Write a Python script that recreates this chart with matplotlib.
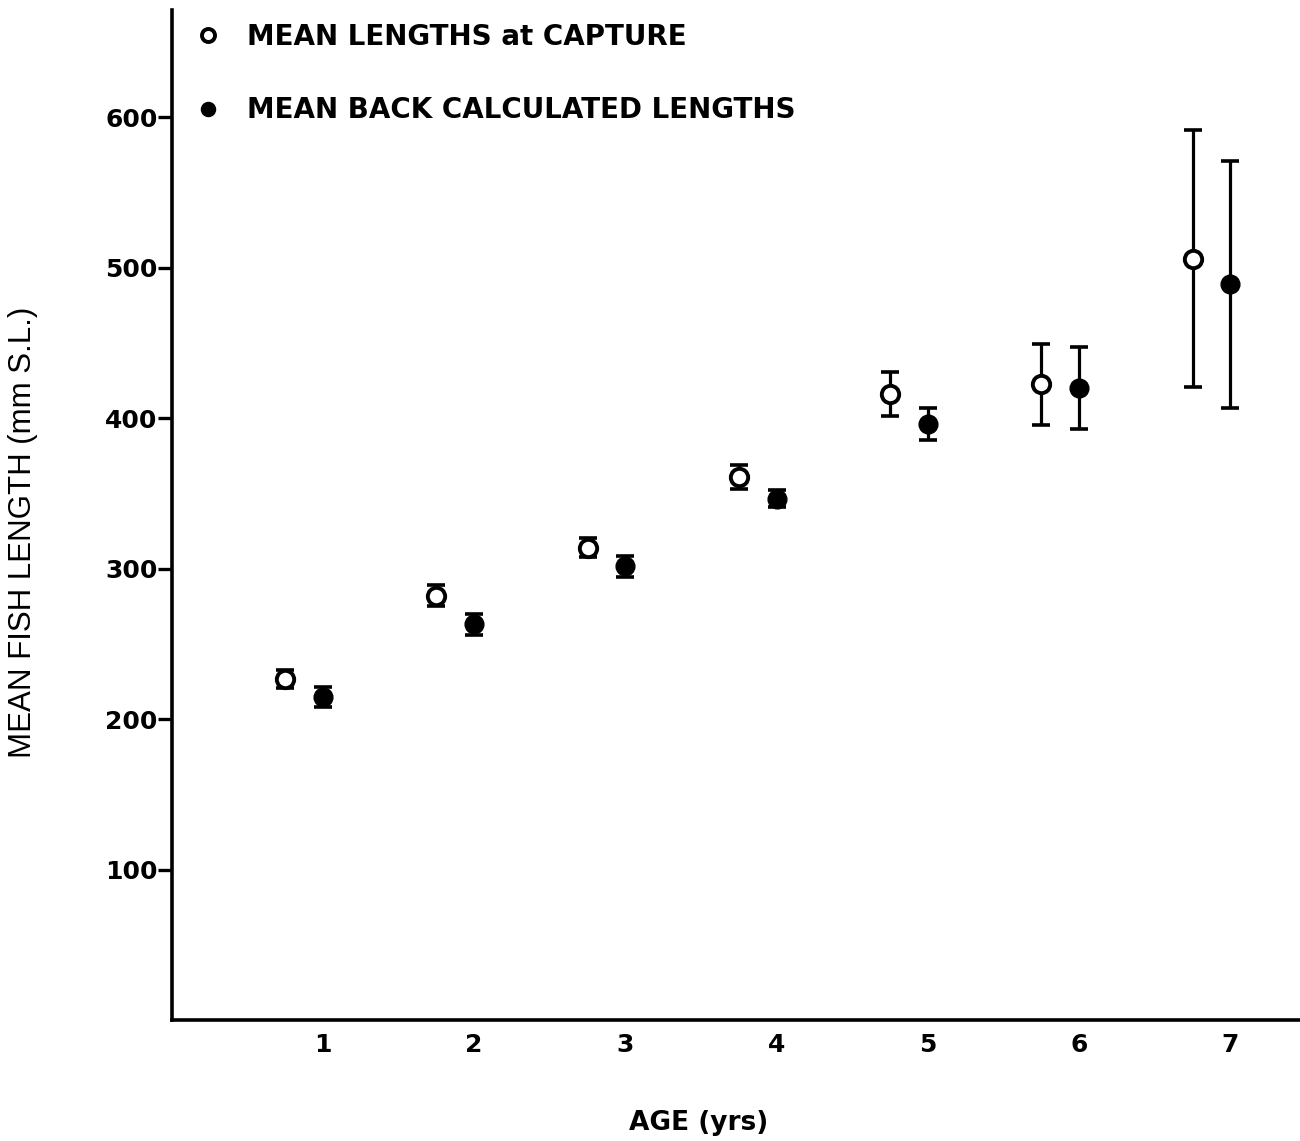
import numpy as np
import matplotlib.pyplot as plt

plt.rcParams['font.family'] = ['Liberation Sans', 'DejaVu Sans']

# Mean lengths (mm S.L.)
ages = [1, 2, 3, 4, 5, 6, 7]
capture_mean = [226.5, 282, 314, 361, 416, 422.5, 506]
capture_err = [6, 7, 6.5, 8, 14.5, 27, 85.5]
backcalc_mean = [214.5, 263, 301.5, 346.5, 396, 420, 489]
backcalc_err = [6.5, 7, 7, 5.5, 10.5, 27, 82]
offset = 0.25

fig = plt.figure(figsize=(13, 11.41), dpi=100)
ax = fig.add_axes([0.132, 0.106, 0.868, 0.885])

x_cap = np.array(ages) - offset
x_back = np.array(ages)

# error bars
ebkw = dict(fmt='none', ecolor='black', elinewidth=2.3, capsize=6.5, capthick=2.6, zorder=2)
ax.errorbar(x_cap, capture_mean, yerr=capture_err, **ebkw)
ax.errorbar(x_back, backcalc_mean, yerr=backcalc_err, **ebkw)

# points
ax.plot(x_cap, capture_mean, 'o', ms=12.5, mfc='white', mec='black', mew=2.8, ls='none',
        zorder=3, label='MEAN LENGTHS at CAPTURE')
ax.plot(x_back, backcalc_mean, 'o', ms=13.5, mfc='black', mec='black', ls='none',
        zorder=3, label='MEAN BACK CALCULATED LENGTHS')

ax.set_xlim(0, 7.46)
ax.set_ylim(0, 671)

ax.spines['top'].set_visible(False)
ax.spines['right'].set_visible(False)
ax.spines['left'].set_linewidth(2.6)
ax.spines['bottom'].set_linewidth(2.6)

ax.set_yticks([100, 200, 300, 400, 500, 600])
ax.set_xticks(ages)
ax.tick_params(axis='y', direction='out', length=10, width=2.4, pad=0, labelsize=18)
ax.tick_params(axis='x', length=0, pad=9, labelsize=18)
for lab in ax.get_xticklabels() + ax.get_yticklabels():
    lab.set_fontweight('bold')
    lab.set_family('DejaVu Sans')

ax.set_ylabel('MEAN FISH LENGTH (mm S.L.)', fontsize=22.5)
ax.yaxis.set_label_coords(-0.118, 0.483)
ax.set_xlabel('AGE (yrs)', fontsize=19, fontweight='bold', family='DejaVu Sans')
ax.xaxis.set_label_coords(0.467, -0.102)
ax.xaxis.label.set_va('center')

leg = ax.legend(loc='upper left', bbox_to_anchor=(0.0, 1.012), frameon=False,
                prop={'size': 20, 'weight': 'bold', 'family': 'DejaVu Sans'},
                labelspacing=1.63, handlelength=0.8, handletextpad=1.0, markerscale=0.75)

fig.savefig('out.png', dpi=100)
